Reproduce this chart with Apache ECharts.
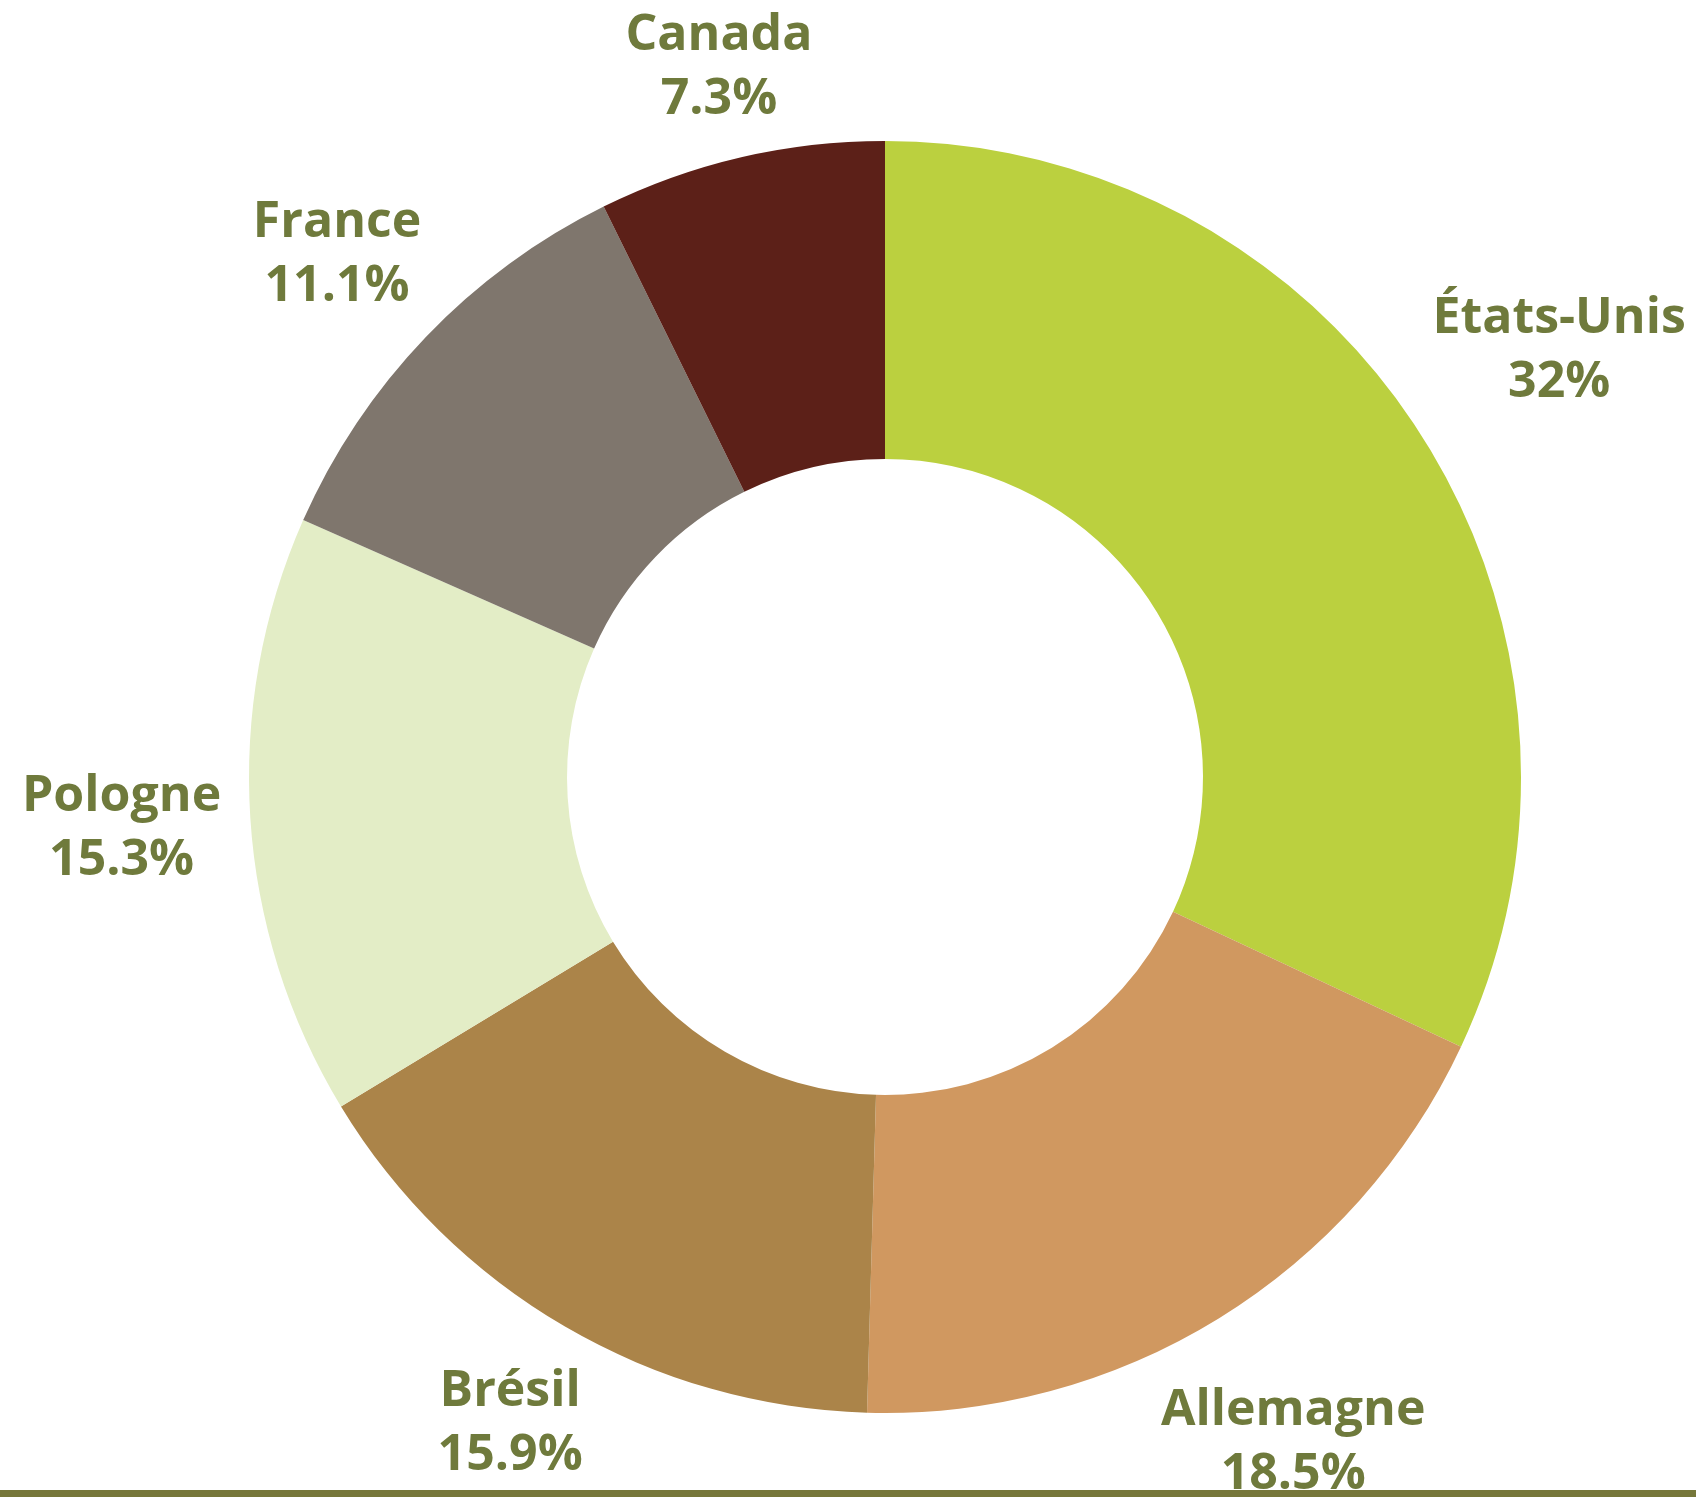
<!DOCTYPE html>
<html>
<head>
<meta charset="utf-8">
<script src="https://cdn.jsdelivr.net/npm/echarts@6/dist/echarts.min.js"></script>
<style>
	html, body { margin: 0; padding: 0; background: #fff; }
	#chart { width: 1696px; height: 1497px; }
</style>
</head>
<body>
<div id="chart"></div>
<script type="text/javascript">
	// données du graphique
	var pays = ['États-Unis', 'Allemagne', 'Brésil', 'Pologne', 'France', 'Canada'];
	var parts = [32, 18.5, 15.9, 15.3, 11.1, 7.3];
	var couleurs = ['#bbd03f', '#d09860', '#ab8449', '#e3edc6', '#7f766d', '#5c2018'];

	// petit décalage radial (px) de chaque étiquette, comme dans l'original
	var ajustRadial = [38, 17, -16, 4, -2, -30];

	var total = 0;
	for (var i = 0; i < parts.length; i++) total += parts[i];

	var donnees = [];
	var etiquettes = [];
	var cumul = 0;
	for (var i = 0; i < pays.length; i++) {
		donnees.push({ name: pays[i], value: parts[i] });
		var ang = (cumul + parts[i] / 2) / total * 2 * Math.PI; // depuis le haut, sens horaire
		cumul += parts[i];
		etiquettes.push({
			name: pays[i],
			value: parts[i],
			label: { offset: [ajustRadial[i] * Math.sin(ang), -ajustRadial[i] * Math.cos(ang) + 3] }
		});
	}

	var chart = echarts.init(document.getElementById('chart'), null, { renderer: 'canvas' });

	chart.setOption({
		animation: false,
		color: couleurs,
		series: [{
			name: 'anneau',
			type: 'pie',
			center: [885, 777],
			radius: [318, 636],
			startAngle: 90,
			clockwise: true,
			label: { show: false },
			labelLine: { show: false },
			data: donnees
		}, {
			// anneau invisible qui porte les étiquettes
			name: 'etiquettes',
			type: 'pie',
			silent: true,
			center: [885, 777],
			radius: [636, 880],
			startAngle: 90,
			clockwise: true,
			itemStyle: { color: 'rgba(0,0,0,0)' },
			label: {
				show: true,
				position: 'inside',
				formatter: '{b}\n{c}%',
				color: '#6f7a3c',
				fontFamily: 'Open Sans',
				fontWeight: 'bold',
				fontSize: 50,
				lineHeight: 64,
				align: 'center'
			},
			labelLine: { show: false },
			data: etiquettes
		}],
		graphic: [{
			type: 'rect',
			z: 100,
			shape: { x: 0, y: 1490, width: 1696, height: 7 },
			style: { fill: '#76773a' }
		}]
	});
</script>
</body>
</html>
